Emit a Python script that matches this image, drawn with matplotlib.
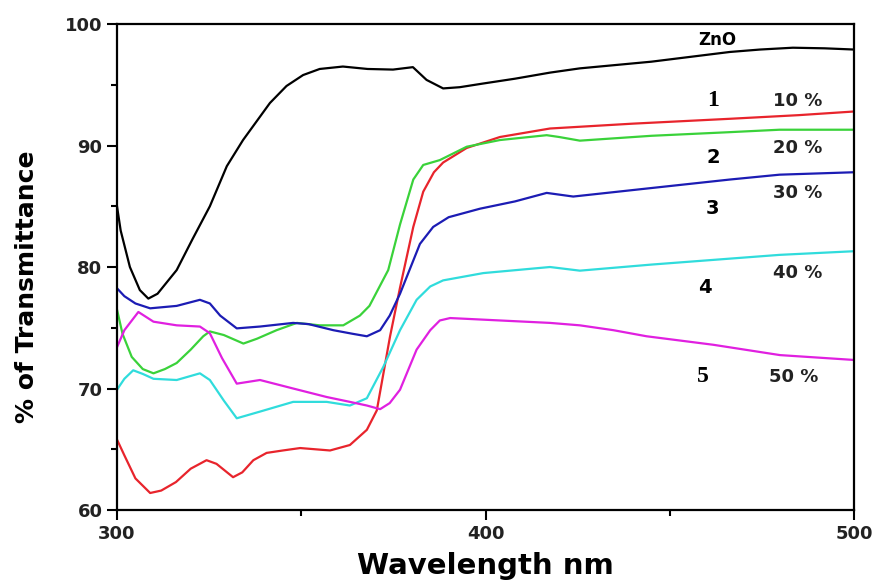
import numpy as np
import matplotlib
matplotlib.use("Agg")
import matplotlib.pyplot as plt
from matplotlib.ticker import MultipleLocator

plt.rcParams['font.family'] = ['DejaVu Sans']
plt.rcParams['font.weight'] = 'bold'

# wavelength (nm) / % transmittance
wl_zno = [300, 301, 303.5, 306.2, 308.5, 311, 316.2, 320.5, 325.2, 329.8, 334.2, 341.5, 346, 350.5,
          355, 361.3, 368, 374.9, 380.3, 384, 388.5, 393, 399.3, 408, 417.5, 425.6, 445, 466.3,
          474.5, 483.4, 492, 500]
t_zno = [85.0, 83.0, 80.0, 78.1, 77.4, 77.8, 79.75, 82.3, 85.0, 88.3, 90.45, 93.5, 94.9, 95.8,
         96.3, 96.5, 96.3, 96.25, 96.45, 95.4, 94.7, 94.8, 95.1, 95.5, 96.0, 96.35, 96.9, 97.7,
         97.9, 98.05, 98.0, 97.9]

wl_10 = [300, 302, 305, 309, 312, 316, 320, 324.3, 327, 331.5, 334, 337, 340.6, 345, 349.7, 357.8,
         363.2, 367.8, 370.5, 374.1, 376.8, 380.4, 383.1, 386, 388.5, 394.9, 403.9, 417.5, 440,
         466.3, 485, 500]
t_10 = [65.8, 64.5, 62.6, 61.4, 61.6, 62.3, 63.4, 64.1, 63.8, 62.7, 63.1, 64.1, 64.7, 64.9, 65.1,
        64.9, 65.35, 66.6, 68.2, 74.3, 78.3, 83.3, 86.2, 87.8, 88.6, 89.8, 90.7, 91.4, 91.8,
        92.2, 92.5, 92.8]

wl_20 = [300, 301.5, 304, 307, 309.9, 313, 316.2, 320, 323.4, 325.2, 329, 334.3, 338, 343.3, 348.8,
         355, 361.4, 365.9, 368.5, 373.6, 376.8, 380.4, 383.1, 387.6, 394.9, 403.9, 416.6, 420,
         425.6, 445, 466.3, 479.8, 500]
t_20 = [76.5, 74.5, 72.6, 71.6, 71.25, 71.6, 72.1, 73.2, 74.3, 74.7, 74.4, 73.7, 74.1, 74.8, 75.4,
        75.2, 75.2, 76.0, 76.8, 79.75, 83.5, 87.2, 88.4, 88.8, 89.9, 90.45, 90.85, 90.7,
        90.4, 90.8, 91.1, 91.3, 91.3]

wl_30 = [300, 302, 305, 309, 316.2, 322.5, 325.2, 328, 332.5, 338.8, 347.8, 352, 358.7, 364, 367.8,
         371.4, 374, 376.8, 382.2, 385.8, 390, 398.5, 408, 416.6, 423.8, 445, 466.3, 479.8, 500]
t_30 = [78.25, 77.6, 77.0, 76.6, 76.8, 77.3, 77.0, 76.0, 74.95, 75.1, 75.4, 75.3, 74.8, 74.5, 74.3,
        74.8, 76.0, 77.8, 81.9, 83.3, 84.1, 84.8, 85.4, 86.1, 85.8, 86.5, 87.2, 87.6, 87.8]

wl_40 = [300, 302, 304.4, 307, 309.9, 316.2, 322.5, 325.2, 329, 332.5, 338.8, 347.8, 356.9, 363.2,
         367.8, 372.3, 376.8, 381.3, 385, 388.5, 399.4, 417.5, 425.6, 445, 479.8, 500]
t_40 = [69.9, 70.8, 71.5, 71.2, 70.8, 70.7, 71.25, 70.7, 69.0, 67.55, 68.1, 68.9, 68.9, 68.6,
        69.2, 71.8, 74.8, 77.3, 78.4, 78.9, 79.5, 80.0, 79.7, 80.2, 81.0, 81.3]

wl_50 = [300, 302, 305.8, 309.9, 316.2, 322.5, 325.2, 328.5, 332.5, 338.8, 347.8, 356.9, 363.2,
         367.8, 371.4, 374, 376.8, 381.3, 385, 387.6, 390.4, 417.5, 425.6, 434.7, 443.7, 461.8,
         479.9, 500]
t_50 = [73.4, 74.8, 76.3, 75.5, 75.2, 75.1, 74.55, 72.5, 70.4, 70.7, 70.0, 69.3, 68.9,
        68.6, 68.3, 68.8, 69.9, 73.2, 74.8, 75.6, 75.8, 75.4, 75.2, 74.8, 74.3, 73.6,
        72.75, 72.35]

fig = plt.figure(figsize=(8.79, 5.83), dpi=100)
ax = fig.add_axes([0.1331, 0.1252, 0.8385, 0.8336])

ax.plot(wl_zno, t_zno, color="black", lw=1.6)
ax.plot(wl_10, t_10, color="#e8242c", lw=1.6)
ax.plot(wl_20, t_20, color="#3ad23a", lw=1.6)
ax.plot(wl_30, t_30, color="#1c1cb4", lw=1.6)
ax.plot(wl_40, t_40, color="#30dcdc", lw=1.6)
ax.plot(wl_50, t_50, color="#e020e0", lw=1.6)

ax.set_xlim(300, 500)
ax.set_ylim(60, 100)
ax.xaxis.set_major_locator(MultipleLocator(100))
ax.xaxis.set_minor_locator(MultipleLocator(50))
ax.yaxis.set_major_locator(MultipleLocator(10))
ax.yaxis.set_minor_locator(MultipleLocator(5))
ax.tick_params(which="both", direction="out", width=1.5, labelsize=13, top=False, right=False)
ax.tick_params(which="major", length=7)
ax.tick_params(which="minor", length=4)
for s in ax.spines.values():
    s.set_linewidth(1.6)
for lab in ax.get_xticklabels() + ax.get_yticklabels():
    lab.set_fontweight("bold")
    lab.set_color("#222222")

ax.set_xlabel("Wavelength nm", fontsize=21, fontweight="bold")
ax.xaxis.set_label_coords(0.5, -0.086)
ax.set_ylabel("% of Transmittance", fontsize=18, fontweight="bold")
ax.yaxis.set_label_coords(-0.106, 0.46)

ax.text(462.8, 98.7, "ZnO", fontsize=12, fontweight="bold", ha="center", va="center")
labs = [("1", 461.7, 93.7, "10 %", 484.8, 93.7),
        ("2", 461.7, 89.05, "20 %", 484.8, 89.8),
        ("3", 461.7, 84.85, "30 %", 484.8, 86.1),
        ("4", 459.6, 78.35, "40 %", 484.8, 79.5),
        ("5", 459.0, 70.95, "50 %", 483.5, 70.95)]
for n, xn, yn, p, xp, yp in labs:
    if n in ("1", "5"):
        ax.text(xn, yn, n, fontsize=17, fontweight="bold", family="Liberation Serif",
                ha="center", va="center")
    else:
        ax.text(xn, yn, n, fontsize=14, fontweight="bold", ha="center", va="center")
    ax.text(xp, yp, p, fontsize=13, fontweight="bold", ha="center", va="center", color="#222222")

fig.savefig("out.png", dpi=100)
